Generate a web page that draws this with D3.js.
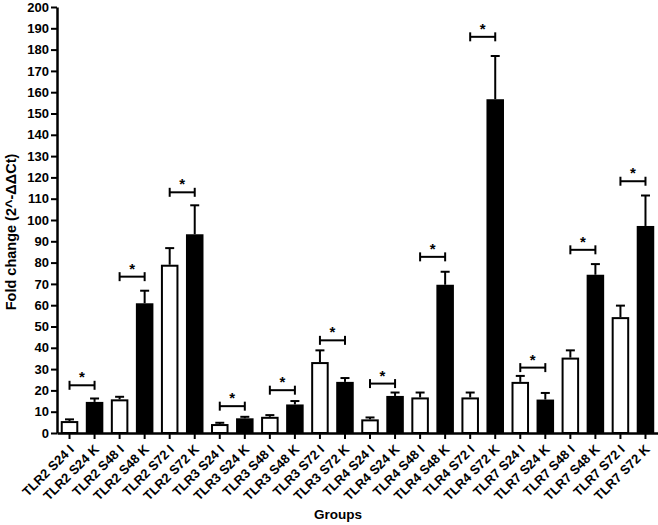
<!DOCTYPE html>
<html>
<head>
<meta charset="utf-8">
<script src="https://cdn.jsdelivr.net/npm/d3@7"></script>
<style>
  html, body { margin: 0; padding: 0; background: #fff; }
  svg { display: block; }
  text { font-family: "Liberation Sans", Arial, Helvetica, sans-serif; font-weight: bold; fill: #000; }
</style>
</head>
<body>
<svg id="chart" width="658" height="525"></svg>
<script>
const categories = ["TLR2 S24 I","TLR2 S24 K","TLR2 S48 I","TLR2 S48 K","TLR2 S72 I","TLR2 S72 K",
  "TLR3 S24 I","TLR3 S24 K","TLR3 S48 I","TLR3 S48 K","TLR3 S72 I","TLR3 S72 K",
  "TLR4 S24 I","TLR4 S24 K","TLR4 S48 I","TLR4 S48 K","TLR4 S72 I","TLR4 S72 K",
  "TLR7 S24 I","TLR7 S24 K","TLR7 S48 I","TLR7 S48 K","TLR7 S72 I","TLR7 S72 K"];
const means = [5.6, 14.6, 15.8, 60.9, 79.0, 93.3, 4.2, 6.9, 7.6, 13.4, 33.3, 24.0,
  6.4, 17.4, 16.7, 69.6, 16.7, 156.7, 24.0, 15.7, 35.4, 74.3, 54.4, 97.2];
const errors = [0.8, 1.6, 1.2, 5.9, 7.8, 13.6, 0.6, 0.7, 0.8, 1.6, 5.5, 1.8,
  0.9, 1.6, 2.3, 6.1, 2.3, 20.3, 2.8, 3.1, 3.4, 5.0, 5.4, 14.3];
const groupType = ["I","K","I","K","I","K","I","K","I","K","I","K",
  "I","K","I","K","I","K","I","K","I","K","I","K"];
const sigPairs = [[0,1],[2,3],[4,5],[6,7],[8,9],[10,11],[12,13],[14,15],[16,17],[18,19],[20,21],[22,23]];
const sigLevels = [22.4, 73.4, 113, 12.6, 20.1, 43.5, 23.2, 82.7, 186, 30.7, 86, 118.2];
const yTicks = d3.range(0, 201, 10);
const yTitle = "Fold change (2^-ΔΔCt)";
const xTitle = "Groups";

const svg = d3.select("#chart");
const mLeft = 57, mRight = 658, mTop = 7, mBottom = 433;

const x = d3.scaleBand().domain(categories).range([mLeft, mRight]).paddingInner(0.3).paddingOuter(0.15);
const y = d3.scaleLinear().domain([0, 200]).range([mBottom, mTop]);
const bw = x.bandwidth();

const data = categories.map((c, i) => ({c, v: means[i], e: errors[i], t: groupType[i]}));

// error bars
const eb = svg.append("g").attr("stroke", "#000").attr("stroke-width", 2);
data.forEach(d => {
  const cx = x(d.c) + bw / 2;
  eb.append("line").attr("x1", cx).attr("x2", cx).attr("y1", y(d.v)).attr("y2", y(d.v + d.e));
  eb.append("line").attr("x1", cx - 4.5).attr("x2", cx + 4.5).attr("y1", y(d.v + d.e)).attr("y2", y(d.v + d.e));
});

// bars
svg.append("g").selectAll("rect").data(data).join("rect")
  .attr("x", d => d.t === "I" ? x(d.c) + 1 : x(d.c))
  .attr("width", d => d.t === "I" ? bw - 2 : bw)
  .attr("y", d => d.t === "I" ? y(d.v) + 1 : y(d.v))
  .attr("height", d => d.t === "I" ? y(0) - y(d.v) - 1 : y(0) - y(d.v))
  .attr("fill", d => d.t === "I" ? "#fff" : "#000")
  .attr("stroke", d => d.t === "I" ? "#000" : "none")
  .attr("stroke-width", 2);

// significance brackets
const sg = svg.append("g");
sigPairs.forEach((p, i) => {
  const x1 = x(categories[p[0]]) + bw / 2;
  const x2 = x(categories[p[1]]) + bw / 2;
  const yy = y(sigLevels[i]);
  const g = sg.append("g").attr("stroke", "#000").attr("stroke-width", 2);
  g.append("line").attr("x1", x1).attr("x2", x2).attr("y1", yy).attr("y2", yy);
  g.append("line").attr("x1", x1).attr("x2", x1).attr("y1", yy - 4.5).attr("y2", yy + 4.5);
  g.append("line").attr("x1", x2).attr("x2", x2).attr("y1", yy - 4.5).attr("y2", yy + 4.5);
  sg.append("text").attr("x", (x1 + x2) / 2).attr("y", yy - 3).attr("text-anchor", "middle")
    .attr("font-size", 15).text("*");
});

// y axis
const ya = svg.append("g").attr("transform", `translate(${mLeft},0)`)
  .call(d3.axisLeft(y).tickValues(yTicks).tickSize(6).tickSizeOuter(0).tickPadding(2));
ya.select(".domain").attr("stroke-width", 2.5);
ya.selectAll(".tick line").attr("stroke-width", 2);
ya.selectAll(".tick text").attr("font-size", 13).attr("font-family", null).style("font-weight", "bold");

// x axis
const xa = svg.append("g").attr("transform", `translate(0,${mBottom})`)
  .call(d3.axisBottom(x).tickSize(6).tickSizeOuter(0));
xa.select(".domain").attr("stroke-width", 2.5);
xa.selectAll(".tick line").attr("stroke-width", 2);
xa.selectAll(".tick text").attr("font-size", 13).attr("font-family", null)
  .attr("x", 0).attr("y", 0).attr("dy", "0.35em")
  .attr("text-anchor", "end")
  .attr("transform", "translate(2,14) rotate(-45)");

svg.append("text").attr("x", 338).attr("y", 519).attr("text-anchor", "middle")
  .attr("font-size", 13.5).text(xTitle);
svg.append("text").attr("transform", "translate(16,232) rotate(-90)").attr("text-anchor", "middle")
  .attr("font-size", 14.5).text(yTitle);
</script>
</body>
</html>
